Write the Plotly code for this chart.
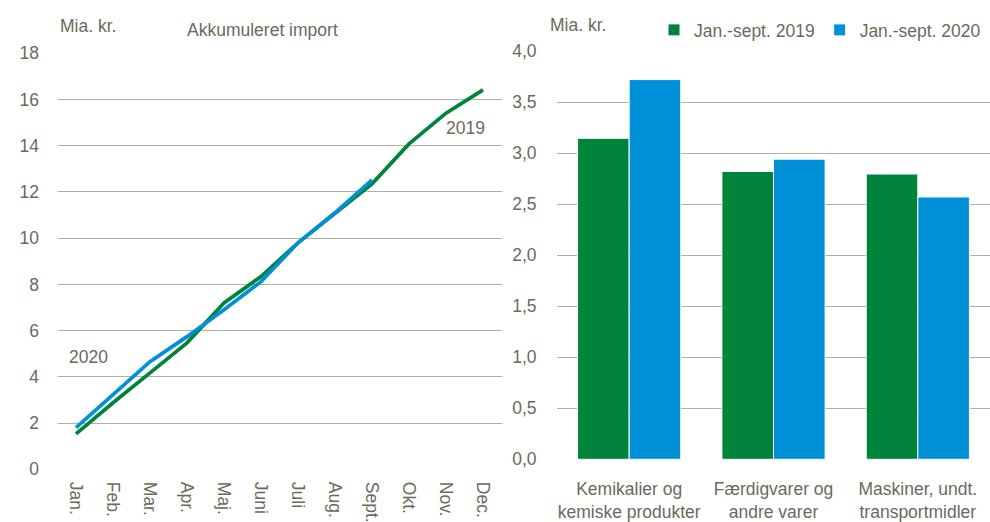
import plotly.graph_objects as go

months = ["Jan.", "Feb.", "Mar.", "Apr.", "Maj.", "Juni", "Juli", "Aug.", "Sept.", "Okt.", "Nov.", "Dec."]
import_2019 = [1.53, 2.88, 4.17, 5.47, 7.2, 8.34, 9.8, 11.1, 12.35, 14.08, 15.41, 16.42]
import_2020 = [1.8, 3.23, 4.66, 5.74, 6.9, 8.12, 9.8, 11.1, 12.52]

categories = ["Kemikalier og<br>kemiske produkter", "Færdigvarer og<br>andre varer", "Maskiner, undt.<br>transportmidler"]
bars_2019 = [3.145, 2.82, 2.795]
bars_2020 = [3.72, 2.94, 2.57]

left_ticks = [0, 2, 4, 6, 8, 10, 12, 14, 16, 18]
right_ticks = [0, 0.5, 1.0, 1.5, 2.0, 2.5, 3.0, 3.5, 4.0]

GREEN = "#00843b"
BLUE = "#0090d7"
TEXT = "#6b6a5c"
GRID = "#b3b0a3"
FONT = "Liberation Sans, Arial, sans-serif"
FS = 17.5

W, H = 990, 522

fig = go.Figure()

fig.add_trace(go.Scatter(x=months, y=import_2019, mode="lines", name="2019",
                         line=dict(color=GREEN, width=3.7), xaxis="x", yaxis="y", showlegend=False))
fig.add_trace(go.Scatter(x=months[:len(import_2020)], y=import_2020, mode="lines", name="2020",
                         line=dict(color=BLUE, width=3.7), xaxis="x", yaxis="y", showlegend=False))

fig.add_trace(go.Bar(x=categories, y=bars_2019, name="Jan.-sept. 2019", marker=dict(color=GREEN, line=dict(color="white", width=1)),
                     xaxis="x2", yaxis="y2"))
fig.add_trace(go.Bar(x=categories, y=bars_2020, name="Jan.-sept. 2020", marker=dict(color=BLUE, line=dict(color="white", width=1)),
                     xaxis="x2", yaxis="y2"))

fig.update_layout(
    width=W, height=H,
    margin=dict(l=0, r=0, t=0, b=0, autoexpand=False),
    paper_bgcolor="white", plot_bgcolor="white",
    font=dict(family=FONT, color=TEXT, size=FS),
    separators=",.",
    barmode="group", bargap=0.285, bargroupgap=0.0,
    xaxis=dict(domain=[57.5 / W, 501.5 / W], anchor="y", type="category", range=[-0.5, 11.5],
               tickangle=90, showgrid=False, showline=False, zeroline=False, automargin=False,
               ticks="outside", ticklen=8, tickcolor="rgba(0,0,0,0)",
               tickfont=dict(size=FS, color=TEXT)),
    yaxis=dict(domain=[1 - 469.3 / H, 1 - 53.3 / H], anchor="x", range=[0, 18], tickvals=left_ticks,
               showgrid=True, gridcolor=GRID, gridwidth=1, zeroline=False, showline=False, automargin=False,
               ticks="outside", ticklen=14, tickcolor="rgba(0,0,0,0)", tickfont=dict(size=FS, color=TEXT)),
    xaxis2=dict(domain=[557 / W, 1.0], anchor="y2", type="category",
                showgrid=False, showline=False, zeroline=False, automargin=False,
                ticks="outside", ticklen=14, tickcolor="rgba(0,0,0,0)",
                tickfont=dict(size=FS, color=TEXT)),
    yaxis2=dict(domain=[1 - 459.3 / H, 1 - 51 / H], anchor="x2", range=[0, 4.0], tickvals=right_ticks,
                tickformat=".1f", showgrid=True, gridcolor=GRID, gridwidth=1, zeroline=False, showline=False,
                automargin=False,
                ticks="outside", ticklen=16, tickcolor="rgba(0,0,0,0)", tickfont=dict(size=FS, color=TEXT)),
    legend=dict(orientation="h", x=654 / W, y=1 - 30 / H, xanchor="left", yanchor="middle",
                font=dict(size=FS, color=TEXT), itemwidth=30, traceorder="normal",
                bgcolor="rgba(0,0,0,0)"),
    annotations=[
        dict(text="Mia. kr.", x=88 / W, y=1 - 26 / H, xref="paper", yref="paper", showarrow=False,
             font=dict(size=FS, color=TEXT), xanchor="center", yanchor="middle"),
        dict(text="Akkumuleret import", x=262 / W, y=1 - 30 / H, xref="paper", yref="paper", showarrow=False,
             font=dict(size=FS, color=TEXT), xanchor="center", yanchor="middle"),
        dict(text="Mia. kr.", x=578 / W, y=1 - 25 / H, xref="paper", yref="paper", showarrow=False,
             font=dict(size=FS, color=TEXT), xanchor="center", yanchor="middle"),
        dict(text="2020", x=88 / W, y=1 - 357 / H, xref="paper", yref="paper", showarrow=False,
             font=dict(size=FS, color=TEXT), xanchor="center", yanchor="middle"),
        dict(text="2019", x=465 / W, y=1 - 128 / H, xref="paper", yref="paper", showarrow=False,
             font=dict(size=FS, color=TEXT), xanchor="center", yanchor="middle"),
    ],
)

fig.write_html("out.html", config={"displayModeBar": False},
               post_script="document.body.style.margin='0';document.body.style.overflow='hidden';")
